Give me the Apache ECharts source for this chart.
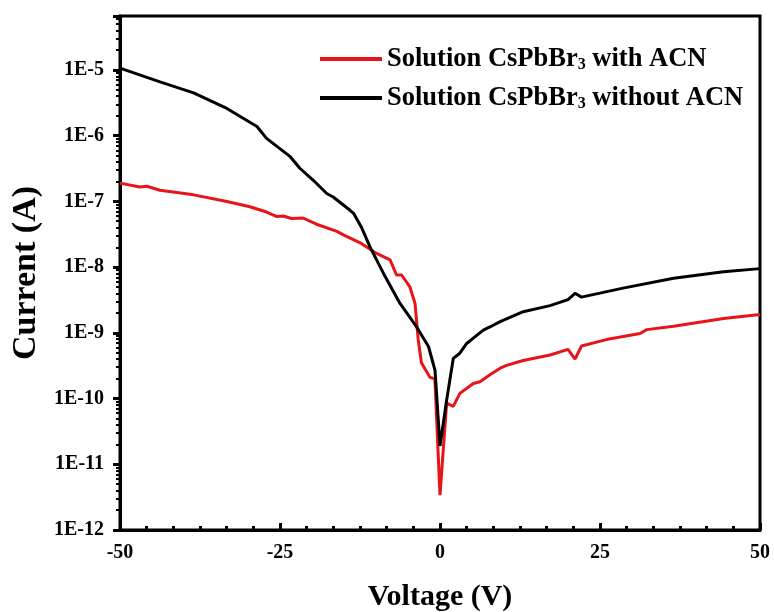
<!DOCTYPE html>
<html><head><meta charset="utf-8">
<script src="https://cdn.jsdelivr.net/npm/echarts@6/dist/echarts.min.js"></script>
<style>html,body{margin:0;padding:0;background:#fff}#c{width:774px;height:612px}</style>
</head><body><div id="c"></div>
<script>
const seriesNames = ['Solution CsPbBr3 with ACN', 'Solution CsPbBr3 without ACN'];
const xTickLabels = ['-50', '-25', '0', '25', '50'];
const yTickLabels = ['1E-12','1E-11','1E-10','1E-9','1E-8','1E-7','1E-6','1E-5'];

const withV = [-50,-46.9,-45.8,-43.75,-38.5,-33.3,-29.7,-27.1,-25.5,-24.5,-23.2,-21.4,-19.3,-16.1,-15.1,-12.3,-9.9,-7.8,-6.8,-6.0,-4.7,-3.9,-3.4,-2.9,-1.56,-0.8,0,1.04,2.08,3.1,5.2,6.25,7.8,9.4,10.4,13,17.2,20,21.1,22.1,26,31.25,32.3,36.5,44.3,50];
const withI = [1.9e-7,1.66e-7,1.7e-7,1.48e-7,1.26e-7,1.0e-7,8.3e-8,6.9e-8,5.9e-8,6.0e-8,5.5e-8,5.6e-8,4.5e-8,3.5e-8,3.1e-8,2.3e-8,1.62e-8,1.29e-8,7.6e-9,7.6e-9,5.0e-9,2.8e-9,7.8e-10,3.5e-10,2.1e-10,2.0e-10,3.4e-12,8.5e-11,7.6e-11,1.2e-10,1.7e-10,1.8e-10,2.3e-10,2.9e-10,3.2e-10,3.8e-10,4.6e-10,5.6e-10,4.0e-10,6.3e-10,7.9e-10,9.8e-10,1.12e-9,1.26e-9,1.66e-9,1.9e-9];

const withoutV = [-50,-43.75,-38.5,-33.3,-28.6,-27.1,-23.4,-21.9,-19.8,-17.7,-16.7,-14.1,-13.5,-12.3,-10.9,-8.85,-6.25,-3.65,-1.8,-0.78,0,1.04,2.08,3.1,4.17,5.2,6.77,7.8,9.4,13,17.2,20,21.1,22.1,28.6,36.5,44.3,50];
const withoutI = [1.07e-5,6.6e-6,4.5e-6,2.6e-6,1.38e-6,9.1e-7,4.8e-7,3.2e-7,2.1e-7,1.32e-7,1.17e-7,7.4e-8,6.6e-8,4.1e-8,2.0e-8,8.1e-9,2.8e-9,1.23e-9,6.2e-10,2.7e-10,1.9e-11,9.5e-11,4.1e-10,4.9e-10,6.9e-10,8.3e-10,1.1e-9,1.23e-9,1.48e-9,2.1e-9,2.6e-9,3.2e-9,4.0e-9,3.5e-9,4.8e-9,6.8e-9,8.5e-9,9.5e-9];

const font = '"Liberation Serif","Times New Roman",serif';
function pairs(xs, ys){ return xs.map((x,i)=>[x, ys[i]]); }
function richName(n){
  const parts = n.split('Br3');
  return '{a|' + parts[0] + 'Br}{s|3}{a|' + parts[1] + '}';
}
const chart = echarts.init(document.getElementById('c'), null, {renderer:'canvas'});
chart.setOption({
  animation:false,
  backgroundColor:'#fff',
  grid:{left:120, right:14, top:16, bottom:82, outerBoundsMode:'none', containLabel:false, show:true, borderColor:'#000', borderWidth:3, backgroundColor:'transparent'},
  legend:{
    left:315, top:40, orient:'vertical', itemGap:11, itemWidth:62, itemHeight:4,
    icon:'rect',
    data:[{name:seriesNames[0], itemStyle:{color:'#e8141a'}},{name:seriesNames[1], itemStyle:{color:'#000'}}],
    formatter: richName,
    textStyle:{fontFamily:font, fontWeight:'bold', fontSize:26.5, color:'#000',
      rich:{a:{fontFamily:font, fontWeight:'bold', fontSize:26.5, color:'#000', lineHeight:29},
            s:{fontFamily:font, fontWeight:'bold', fontSize:16, color:'#000', padding:[12,0,0,0], lineHeight:29}}}
  },
  xAxis:{
    type:'value', min:-50, max:50, interval:25,
    name:'Voltage (V)', nameLocation:'middle', nameGap:52,
    nameTextStyle:{fontFamily:font, fontWeight:'bold', fontSize:30, color:'#000'},
    axisLine:{onZero:false, lineStyle:{color:'#000', width:3}},
    axisTick:{inside:true, length:7, lineStyle:{color:'#000', width:3}},
    minorTick:{show:true, splitNumber:6, length:4, lineStyle:{color:'#000', width:3}},
    splitLine:{show:false},
    axisLabel:{fontFamily:font, fontWeight:'bold', fontSize:20, color:'#000', margin:13,
      formatter:v=>xTickLabels[xTickLabels.indexOf(String(v))] ?? String(v)}
  },
  yAxis:{
    type:'log', logBase:10, min:1e-12, max:6.64e-5,
    name:'Current (A)', nameLocation:'middle', nameGap:75,
    nameTextStyle:{fontFamily:font, fontWeight:'bold', fontSize:34, color:'#000'},
    axisLine:{onZero:false, lineStyle:{color:'#000', width:3}},
    axisTick:{inside:false, length:7, lineStyle:{color:'#000', width:3}},
    minorTick:{show:true, splitNumber:9, length:4, lineStyle:{color:'#000', width:2}},
    splitLine:{show:false},
    axisLabel:{fontFamily:font, fontWeight:'bold', fontSize:20, color:'#000', margin:16,
      formatter:v=>{ const e = Math.round(Math.log10(v)); if (Math.abs(Math.log10(v)-e)>1e-6) return ''; const s='1E'+e; return yTickLabels.includes(s)?s:''; }}
  },
  series:[
    {name:seriesNames[0], type:'line', data:pairs(withV, withI), showSymbol:false, symbol:'none', lineStyle:{color:'#e8141a', width:3}, itemStyle:{color:'#e8141a'}, z:2},
    {name:seriesNames[1], type:'line', data:pairs(withoutV, withoutI), showSymbol:false, symbol:'none', lineStyle:{color:'#000', width:3}, itemStyle:{color:'#000'}, z:3}
  ]
});
</script></body></html>
